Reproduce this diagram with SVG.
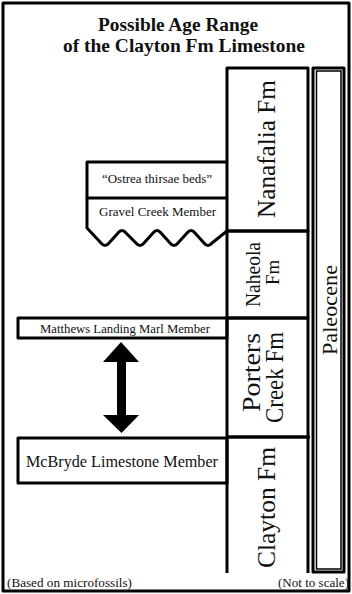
<svg xmlns="http://www.w3.org/2000/svg" width="352" height="594" viewBox="0 0 352 594">
<style>
.ln{fill:none;stroke:#000;stroke-width:3;stroke-linejoin:round}
.thin{fill:none;stroke:#000;stroke-width:1.5}
text{font-family:"Liberation Serif","Times New Roman",serif;fill:#111}
.title{font-weight:bold;font-size:19.3px}
.c{text-anchor:middle}
</style>
<rect width="352" height="594" fill="#fff"/>
<rect id="border" class="ln" x="3" y="3" width="346" height="588"/>
<g id="title">
<text class="title c" x="178" y="31" textLength="160" lengthAdjust="spacingAndGlyphs">Possible Age Range</text>
<text class="title c" x="184" y="52" textLength="242" lengthAdjust="spacingAndGlyphs">of the Clayton Fm Limestone</text>
</g>
<g id="nanafalia">
<rect class="ln" x="227" y="68" width="81" height="163"/>
<text class="c" font-size="26" transform="translate(275,149) rotate(-90)" textLength="138" lengthAdjust="spacingAndGlyphs">Nanafalia Fm</text>
</g>
<g id="naheola">
<rect class="ln" x="227" y="231" width="81" height="87"/>
<text class="c" font-size="20" transform="translate(260,274.5) rotate(-90)" textLength="65" lengthAdjust="spacingAndGlyphs">Naheola</text>
<text class="c" font-size="19" transform="translate(279,272.5) rotate(-90)" textLength="25" lengthAdjust="spacingAndGlyphs">Fm</text>
</g>
<g id="porters-creek">
<rect class="ln" x="227" y="318" width="81" height="119"/>
<text class="c" font-size="26" transform="translate(260,372.5) rotate(-90)" textLength="79" lengthAdjust="spacingAndGlyphs">Porters</text>
<text class="c" font-size="26" transform="translate(283,377.5) rotate(-90)" textLength="91" lengthAdjust="spacingAndGlyphs">Creek Fm</text>
</g>
<g id="clayton">
<path class="ln" d="M227,437 H310 M227,437 V573 M308,437 V573"/>
<text class="c" font-size="25" transform="translate(275,507.5) rotate(-90)" textLength="121" lengthAdjust="spacingAndGlyphs">Clayton Fm</text>
</g>
<g id="paleocene">
<rect class="ln" x="313" y="68" width="31" height="504"/>
<rect class="thin" x="316.5" y="71" width="24.5" height="498"/>
<text class="c" font-size="22" transform="translate(337,310) rotate(-90)" textLength="90" lengthAdjust="spacingAndGlyphs">Paleocene</text>
</g>
<g id="ostrea">
<path class="ln" d="M227,162 H87 V198 H227"/>
<text class="c" font-size="13.5" x="157" y="183" textLength="110" lengthAdjust="spacingAndGlyphs">“Ostrea thirsae beds”</text>
</g>
<g id="gravel-creek">
<path class="ln" d="M87,198 V228 L101,243 Q105,248 109,243 L118,233 Q122,228 126,233 L136,243 Q140,248 144,243 L153,233 Q157,228 161,233 L170,243 Q174,248 178,243 L187,233 Q191,228 195,233 L204,243 Q208,248 212,243 L227,231"/>
<text class="c" font-size="13.5" x="157.5" y="216" textLength="117" lengthAdjust="spacingAndGlyphs">Gravel Creek Member</text>
</g>
<g id="matthews-landing">
<rect class="ln" x="18" y="318" width="209" height="20"/>
<text class="c" font-size="13.5" x="125" y="332.5" textLength="170" lengthAdjust="spacingAndGlyphs">Matthews Landing Marl Member</text>
</g>
<g id="mcbryde">
<rect class="ln" x="18" y="438" width="209" height="45" stroke-width="3.5"/>
<text class="c" font-size="16.5" x="122" y="466.5" textLength="192" lengthAdjust="spacingAndGlyphs">McBryde Limestone Member</text>
</g>
<g id="connectors">
<polygon fill="#000" points="121,342 139,362 126,362 126,415 139,415 121.5,433 103,415 117,415 117,362 103,362"/>
</g>
<g id="notes">
<text font-size="13.5" x="7" y="587" textLength="125" lengthAdjust="spacingAndGlyphs">(Based on microfossils)</text>
<text font-size="13.5" x="278" y="587" textLength="71" lengthAdjust="spacingAndGlyphs">(Not to scale)</text>
</g>
</svg>
